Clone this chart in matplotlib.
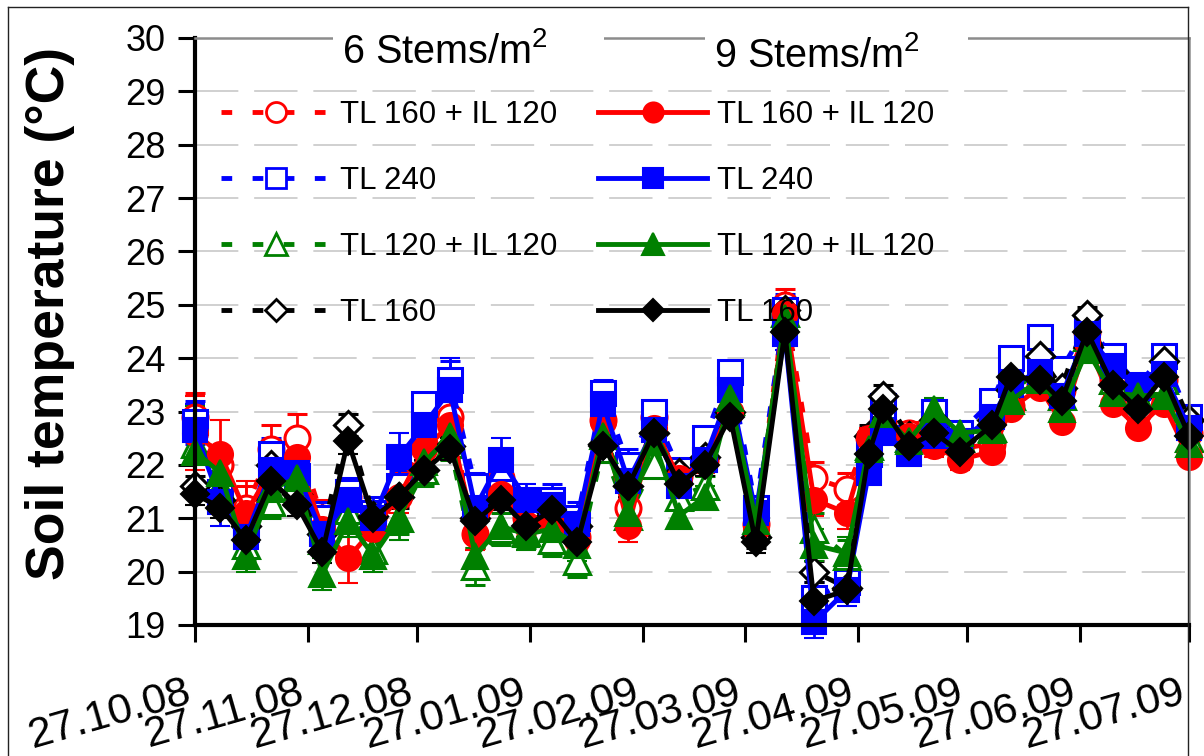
import matplotlib
matplotlib.use('Agg')
import matplotlib.pyplot as plt
import matplotlib.transforms as mtransforms
from matplotlib.lines import Line2D
from matplotlib.patches import Rectangle
import numpy as np

plt.rcParams['font.family'] = ['Liberation Sans', 'DejaVu Sans']
plt.rcParams['mathtext.fontset'] = 'custom'
plt.rcParams['mathtext.rm'] = 'Liberation Sans'
plt.rcParams['mathtext.it'] = 'Liberation Sans:italic'

# ---------------- data ----------------
dates = ['2008-10-27', '2008-11-03', '2008-11-10', '2008-11-17', '2008-11-24',
         '2008-12-01', '2008-12-08', '2008-12-15', '2008-12-22', '2008-12-29',
         '2009-01-05', '2009-01-12', '2009-01-19', '2009-01-26', '2009-02-02',
         '2009-02-09', '2009-02-16', '2009-02-23', '2009-03-02', '2009-03-09',
         '2009-03-16', '2009-03-23', '2009-03-30', '2009-04-07', '2009-04-15',
         '2009-04-24', '2009-04-30', '2009-05-04', '2009-05-11', '2009-05-18',
         '2009-05-25', '2009-06-03', '2009-06-08', '2009-06-16', '2009-06-22',
         '2009-06-29', '2009-07-06', '2009-07-13', '2009-07-20', '2009-07-27']

tick_dates = ['2008-10-27', '2008-11-27', '2008-12-27', '2009-01-27', '2009-02-27',
              '2009-03-27', '2009-04-27', '2009-05-27', '2009-06-27', '2009-07-27']
tick_labels = ['27.10.08', '27.11.08', '27.12.08', '27.01.09', '27.02.09',
               '27.03.09', '27.04.09', '27.05.09', '27.06.09', '27.07.09']

series_labels = ['TL 160 + IL 120', 'TL 240', 'TL 120 + IL 120', 'TL 160']
legend_titles = ['6 Stems/m$^2$', '9 Stems/m$^2$']

# 6 stems/m2
s6_tl160_il120 = [22.9, 22.0, 21.2, 22.3, 22.5, 21.0, 21.4, 21.0, 21.55, 22.4,
                  22.9, 20.7, 21.75, 21.0, 21.0, 20.65, 22.85, 21.2, 22.9, 21.8,
                  22.1, 23.0, 20.9, 25.0, 21.75, 21.55, 22.5, 22.8, 22.6, 22.5,
                  22.3, 22.4, 23.1, 23.5, 23.4, 24.5, 23.6, 23.0, 23.6, 22.6]
s6_tl240 = [22.8, 21.5, 20.8, 22.2, 21.8, 21.0, 21.5, 21.1, 21.6, 23.15,
            23.6, 21.6, 21.5, 21.3, 21.35, 21.0, 23.35, 22.0, 23.0, 21.9,
            22.5, 23.75, 21.2, 24.9, 19.5, 19.8, 22.2, 23.1, 22.5, 23.0,
            22.6, 23.2, 24.0, 24.4, 23.8, 24.6, 24.05, 23.5, 24.05, 22.9]
s6_tl120_il120 = [22.4, 21.6, 20.5, 21.3, 21.6, 20.6, 21.15, 20.4, 21.0, 21.9,
                  22.4, 20.1, 20.8, 20.75, 20.6, 20.2, 22.3, 21.05, 22.0, 21.4,
                  21.6, 23.2, 20.9, 24.85, 20.8, 20.3, 22.35, 22.9, 22.5, 22.8,
                  22.5, 22.7, 23.3, 23.85, 23.3, 24.4, 23.6, 23.3, 23.6, 22.5]
s6_tl160 = [21.6, 21.35, 20.85, 22.0, 21.45, 20.7, 22.75, 21.05, 21.4, 21.9,
            22.35, 21.0, 21.4, 21.1, 21.1, 20.85, 22.4, 21.6, 22.6, 21.85,
            22.15, 23.0, 20.65, 24.9, 20.0, 19.7, 22.55, 23.3, 22.55, 22.85,
            22.45, 22.85, 23.4, 24.05, 23.45, 24.8, 23.75, 23.3, 23.95, 22.85]
# 9 stems/m2
s9_tl160_il120 = [22.6, 22.2, 21.1, 21.9, 22.15, 20.8, 20.25, 20.8, 21.4, 22.3,
                  22.75, 20.7, 21.45, 20.9, 20.9, 20.6, 22.8, 20.85, 22.7, 21.75,
                  22.05, 23.0, 20.8, 24.85, 21.35, 21.1, 22.5, 22.7, 22.55, 22.35,
                  22.1, 22.25, 23.05, 23.45, 22.8, 24.3, 23.15, 22.7, 23.15, 22.15]
s9_tl240 = [22.65, 21.3, 20.65, 21.9, 21.85, 20.7, 21.35, 21.0, 22.15, 22.75,
            23.4, 21.2, 22.1, 21.35, 21.25, 20.9, 23.15, 21.7, 22.65, 21.6,
            22.1, 23.4, 21.1, 24.45, 19.05, 19.65, 21.85, 22.6, 22.2, 22.55,
            22.45, 22.9, 23.5, 23.75, 23.3, 24.45, 23.85, 23.45, 23.7, 22.7]
s9_tl120_il120 = [22.25, 21.85, 20.3, 21.55, 21.75, 19.95, 20.95, 20.3, 21.0, 22.05,
                  22.55, 20.3, 20.85, 20.7, 20.8, 20.5, 22.55, 21.1, 22.45, 21.05,
                  21.4, 23.25, 20.95, 24.75, 20.5, 20.35, 22.3, 22.95, 22.45, 23.05,
                  22.6, 22.65, 23.2, 23.6, 23.05, 24.15, 23.35, 23.3, 23.3, 22.4]
s9_tl160 = [21.45, 21.2, 20.6, 21.7, 21.25, 20.37, 22.45, 21.0, 21.4, 21.9,
            22.3, 20.95, 21.35, 20.85, 21.15, 20.55, 22.35, 21.6, 22.6, 21.65,
            22.0, 22.9, 20.55, 24.5, 19.45, 19.65, 22.2, 23.05, 22.35, 22.6,
            22.25, 22.75, 23.65, 23.6, 23.2, 24.5, 23.5, 23.05, 23.65, 22.55]

# standard errors (estimated)
e6_tl160_il120 = [0.45, 0.35, 0.4, 0.45, 0.45, 0.35, 0.3, 0.3, 0.3, 0.3,
                  0.3, 0.25, 0.3, 0.3, 0.25, 0.25, 0.2, 0.3, 0.2, 0.2,
                  0.2, 0.2, 0.2, 0.3, 0.3, 0.3, 0.2, 0.2, 0.2, 0.2,
                  0.2, 0.15, 0.15, 0.15, 0.15, 0.15, 0.15, 0.15, 0.15, 0.15]
e6_tl240 = [0.4, 0.3, 0.3, 0.3, 0.3, 0.3, 0.25, 0.3, 0.3, 0.2,
            0.35, 0.25, 0.3, 0.25, 0.3, 0.3, 0.25, 0.3, 0.2, 0.2,
            0.2, 0.2, 0.2, 0.3, 0.3, 0.3, 0.2, 0.2, 0.2, 0.2,
            0.2, 0.15, 0.15, 0.15, 0.15, 0.15, 0.15, 0.15, 0.15, 0.15]
e6_tl120_il120 = [0.3, 0.3, 0.3, 0.3, 0.3, 0.3, 0.3, 0.3, 0.3, 0.3,
                  0.3, 0.35, 0.3, 0.3, 0.3, 0.3, 0.25, 0.3, 0.2, 0.2,
                  0.2, 0.2, 0.2, 0.3, 0.3, 0.3, 0.2, 0.2, 0.2, 0.2,
                  0.2, 0.15, 0.15, 0.15, 0.15, 0.15, 0.15, 0.15, 0.15, 0.15]
e6_tl160 = [0.2, 0.2, 0.2, 0.2, 0.2, 0.2, 0.2, 0.2, 0.2, 0.2,
            0.2, 0.2, 0.2, 0.2, 0.2, 0.2, 0.2, 0.2, 0.2, 0.2,
            0.2, 0.2, 0.2, 0.2, 0.2, 0.2, 0.2, 0.2, 0.2, 0.2,
            0.15, 0.15, 0.15, 0.15, 0.15, 0.15, 0.15, 0.15, 0.15, 0.15]
e9_tl160_il120 = [0.7, 0.65, 0.6, 0.5, 0.4, 0.4, 0.47, 0.3, 0.3, 0.3,
                  0.3, 0.3, 0.3, 0.3, 0.3, 0.3, 0.25, 0.3, 0.2, 0.2,
                  0.2, 0.2, 0.2, 0.3, 0.3, 0.3, 0.2, 0.2, 0.2, 0.2,
                  0.2, 0.15, 0.15, 0.15, 0.15, 0.15, 0.15, 0.15, 0.15, 0.15]
e9_tl240 = [0.5, 0.45, 0.3, 0.3, 0.3, 0.3, 0.25, 0.3, 0.45, 0.3,
            0.6, 0.3, 0.4, 0.3, 0.3, 0.3, 0.25, 0.3, 0.2, 0.2,
            0.2, 0.2, 0.2, 0.3, 0.3, 0.3, 0.2, 0.2, 0.2, 0.2,
            0.2, 0.15, 0.15, 0.15, 0.15, 0.15, 0.15, 0.15, 0.15, 0.15]
e9_tl120_il120 = [0.85, 0.3, 0.3, 0.3, 0.3, 0.3, 0.3, 0.3, 0.4, 0.3,
                  0.3, 0.3, 0.3, 0.3, 0.3, 0.3, 0.25, 0.3, 0.2, 0.2,
                  0.2, 0.2, 0.2, 0.3, 0.3, 0.3, 0.2, 0.2, 0.2, 0.2,
                  0.2, 0.15, 0.15, 0.15, 0.15, 0.15, 0.15, 0.15, 0.15, 0.15]
e9_tl160 = [0.2, 0.2, 0.2, 0.2, 0.2, 0.2, 0.25, 0.2, 0.2, 0.2,
            0.2, 0.2, 0.2, 0.2, 0.2, 0.2, 0.2, 0.2, 0.2, 0.2,
            0.2, 0.2, 0.2, 0.2, 0.2, 0.2, 0.2, 0.2, 0.2, 0.2,
            0.15, 0.15, 0.15, 0.15, 0.15, 0.15, 0.15, 0.15, 0.15, 0.15]

# ---------------- figure ----------------
W, H = 1204, 756
fig = plt.figure(figsize=(W / 100, H / 100), dpi=100)
L, R, T, B = 195, 1189, 38, 625
ax = fig.add_axes([L / W, 1 - B / H, (R - L) / W, (B - T) / H])

x = np.array(dates, dtype='datetime64[D]')

colors = ['#FF0000', '#0000FF', '#008000', '#000000']
markers = ['o', 's', '^', 'D']
msizes = [18, 17.5, 19, 14.5]
dash = (0, (2.2, 4.2))

six = [s6_tl160_il120, s6_tl240, s6_tl120_il120, s6_tl160]
nine = [s9_tl160_il120, s9_tl240, s9_tl120_il120, s9_tl160]
e_six = [e6_tl160_il120, e6_tl240, e6_tl120_il120, e6_tl160]
e_nine = [e9_tl160_il120, e9_tl240, e9_tl120_il120, e9_tl160]


def unclip(cont):
    data_line, caplines, barcols = cont.lines
    arts = [data_line] + list(caplines) + list(barcols)
    for art in arts:
        if art is not None:
            art.set_clip_on(False)


for vals, errs, c, m, ms in zip(six, e_six, colors, markers, msizes):
    cont = ax.errorbar(x, vals, yerr=errs, color=c, ls=dash, lw=3.5,
                       marker=m, ms=ms, mfc='white', mec=c, mew=2.2,
                       ecolor=c, elinewidth=2, capsize=7, capthick=2)
    unclip(cont)

for vals, errs, c, m, ms in zip(nine, e_nine, colors, markers, msizes):
    cont = ax.errorbar(x, vals, yerr=errs, color=c, ls='-', lw=3.5,
                       marker=m, ms=ms, mfc=c, mec=c, mew=1.5,
                       ecolor=c, elinewidth=2, capsize=7, capthick=2)
    unclip(cont)

ax.set_ylim(19, 30)
ax.set_yticks(range(19, 31))
ax.set_xlim(np.datetime64(tick_dates[0]), np.datetime64(tick_dates[-1]))
ax.set_xticks(np.array(tick_dates, dtype='datetime64[D]'))

ax.set_axisbelow(True)
ax.yaxis.grid(True, color='#c8c8c8', lw=1.2, ls=(0, (26, 9.5)))

for side in ['left', 'bottom']:
    ax.spines[side].set_linewidth(3)
    ax.spines[side].set_color('black')
for side in ['top', 'right']:
    ax.spines[side].set_linewidth(1.8)
    ax.spines[side].set_color('#8c8c8c')

ax.tick_params(axis='both', direction='out', length=12, width=2.2, labelsize=26,
               colors='black')
ax.tick_params(axis='y', pad=9)
ax.tick_params(axis='x', pad=22, labelsize=31)
ax.set_xticklabels(tick_labels, rotation=16, ha='right', va='top',
                   rotation_mode='anchor')

fig.text(50 / W, 1 - 313 / H, 'Soil temperature (°C)', rotation=90,
         ha='center', va='center', fontsize=38.5, fontweight='bold')

# white gaps over the top frame line behind the legend titles
fig.add_artist(Rectangle((333 / W, 1 - 48 / H), (604 - 333) / W, 18 / H,
                         transform=fig.transFigure, facecolor='white',
                         edgecolor='none', zorder=3))
fig.add_artist(Rectangle((705 / W, 1 - 48 / H), (968 - 705) / W, 18 / H,
                         transform=fig.transFigure, facecolor='white',
                         edgecolor='none', zorder=3))
fig.text(445 / W, 1 - 63 / H, legend_titles[0], ha='center', va='baseline',
         fontsize=28.5, zorder=4)
fig.text(817 / W, 1 - 67 / H, legend_titles[1], ha='center', va='baseline',
         fontsize=28.5, zorder=4)

h6 = [Line2D([], [], color=c, ls=dash, lw=3.5, marker=m, ms=ms * 0.8,
             mfc='white', mec=c, mew=2) for c, m, ms in zip(colors, markers, msizes)]
h9 = [Line2D([], [], color=c, ls='-', lw=3.5, marker=m, ms=ms * 0.8,
             mfc=c, mec=c, mew=1.5) for c, m, ms in zip(colors, markers, msizes)]

leg_kw = dict(loc='upper left', frameon=False, fontsize=22.5, handlelength=3.5,
              handletextpad=0.3, labelspacing=1.15, borderpad=0, borderaxespad=0,
              numpoints=1, bbox_transform=fig.transFigure)
leg1 = fig.legend(h6, series_labels, bbox_to_anchor=(221 / W, 1 - 100 / H), **leg_kw)
leg2 = fig.legend(h9, series_labels, bbox_to_anchor=(598 / W, 1 - 100 / H), **leg_kw)
leg1.set_zorder(5)
leg2.set_zorder(5)

# outer chart frame
frame_kw = dict(transform=fig.transFigure, color='#222222', lw=1.0)
fig.add_artist(Line2D([8 / W, 8 / W], [0, 1 - 7 / H], **frame_kw))
fig.add_artist(Line2D([8 / W, 1188 / W], [1 - 7 / H, 1 - 7 / H], **frame_kw))
fig.add_artist(Line2D([1188 / W, 1188 / W], [0, 1 - 7 / H], **frame_kw))

offset = mtransforms.ScaledTranslation(-10 / 100, 0, fig.dpi_scale_trans)
for lab in ax.get_xticklabels():
    lab.set_transform(lab.get_transform() + offset)

fig.savefig('out.png', dpi=100)
